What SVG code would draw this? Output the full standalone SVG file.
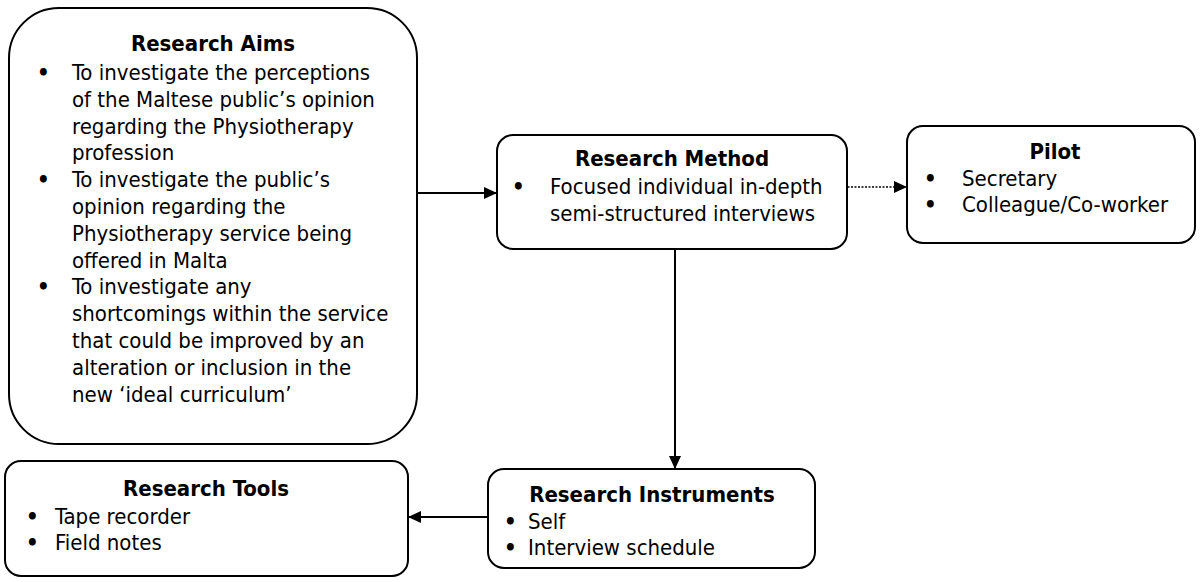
<svg xmlns="http://www.w3.org/2000/svg" width="1200" height="582" viewBox="0 0 1200 582">
  <style>
    .box { fill: #ffffff; stroke: #000000; stroke-width: 2; }
    .t { font-family: "DejaVu Sans Condensed", "DejaVu Sans", sans-serif; font-stretch: condensed; font-size: 22px; fill: #000000; }
    .h { font-weight: bold; text-anchor: middle; }
    .b { font-weight: bold; }
    .wire { fill: none; stroke: #000000; stroke-width: 2; }
    .dots { fill: none; stroke: #000000; stroke-width: 1.3; stroke-dasharray: 2 1.5; }
  </style>
  <defs>
    <marker id="head" viewBox="0 0 13 12" refX="13" refY="6" markerWidth="13" markerHeight="12" markerUnits="userSpaceOnUse" orient="auto">
      <path d="M0,0 L13,6 L0,12 Z" fill="#000000"/>
    </marker>
  </defs>
  <rect width="1200" height="582" fill="#ffffff"/>

  <!-- connectors -->
  <g id="connectors">
    <line class="wire" x1="417" y1="193" x2="497" y2="193" marker-end="url(#head)"/>
    <line class="dots" x1="823" y1="187" x2="907" y2="187" marker-end="url(#head)"/>
    <line class="wire" x1="675" y1="250" x2="675" y2="469" marker-end="url(#head)"/>
    <line class="wire" x1="488" y1="517" x2="408" y2="517" marker-end="url(#head)"/>
  </g>

  <!-- Research Aims -->
  <g id="research-aims">
    <rect class="box" x="9" y="8" width="408" height="436" rx="50" ry="50"/>
    <text class="t h" x="213" y="51">Research Aims</text>
    <text class="t b" x="37" y="80">•</text>
    <text class="t" x="72" y="80">To investigate the perceptions</text>
    <text class="t" x="72" y="107">of the Maltese public’s opinion</text>
    <text class="t" x="72" y="134">regarding the Physiotherapy</text>
    <text class="t" x="72" y="160">profession</text>
    <text class="t b" x="37" y="187">•</text>
    <text class="t" x="72" y="187">To investigate the public’s</text>
    <text class="t" x="72" y="214">opinion regarding the</text>
    <text class="t" x="72" y="241">Physiotherapy service being</text>
    <text class="t" x="72" y="268">offered in Malta</text>
    <text class="t b" x="37" y="294">•</text>
    <text class="t" x="72" y="294">To investigate any</text>
    <text class="t" x="72" y="321">shortcomings within the service</text>
    <text class="t" x="72" y="348">that could be improved by an</text>
    <text class="t" x="72" y="375">alteration or inclusion in the</text>
    <text class="t" x="72" y="402">new ‘ideal curriculum’</text>
  </g>

  <!-- Research Method -->
  <g id="research-method">
    <rect class="box" x="497" y="135" width="350" height="114" rx="16" ry="16"/>
    <text class="t h" x="672" y="166">Research Method</text>
    <text class="t b" x="512" y="194">•</text>
    <text class="t" x="550" y="194">Focused individual in-depth</text>
    <text class="t" x="550" y="221">semi-structured interviews</text>
  </g>

  <!-- Pilot -->
  <g id="pilot">
    <rect class="box" x="907" y="126" width="288" height="117" rx="16" ry="16"/>
    <text class="t h" x="1055" y="159">Pilot</text>
    <text class="t b" x="924" y="186">•</text>
    <text class="t" x="962" y="186">Secretary</text>
    <text class="t b" x="924" y="212">•</text>
    <text class="t" x="962" y="212">Colleague/Co-worker</text>
  </g>

  <!-- Research Instruments -->
  <g id="research-instruments">
    <rect class="box" x="488" y="469" width="327" height="99" rx="16" ry="16"/>
    <text class="t h" x="652" y="502">Research Instruments</text>
    <text class="t b" x="504" y="529">•</text>
    <text class="t" x="528" y="529">Self</text>
    <text class="t b" x="504" y="555">•</text>
    <text class="t" x="528" y="555">Interview schedule</text>
  </g>

  <!-- Research Tools -->
  <g id="research-tools">
    <rect class="box" x="5" y="461" width="403" height="115" rx="16" ry="16"/>
    <text class="t h" x="206" y="496">Research Tools</text>
    <text class="t b" x="26" y="524">•</text>
    <text class="t" x="55" y="524">Tape recorder</text>
    <text class="t b" x="26" y="550">•</text>
    <text class="t" x="55" y="550">Field notes</text>
  </g>
</svg>
